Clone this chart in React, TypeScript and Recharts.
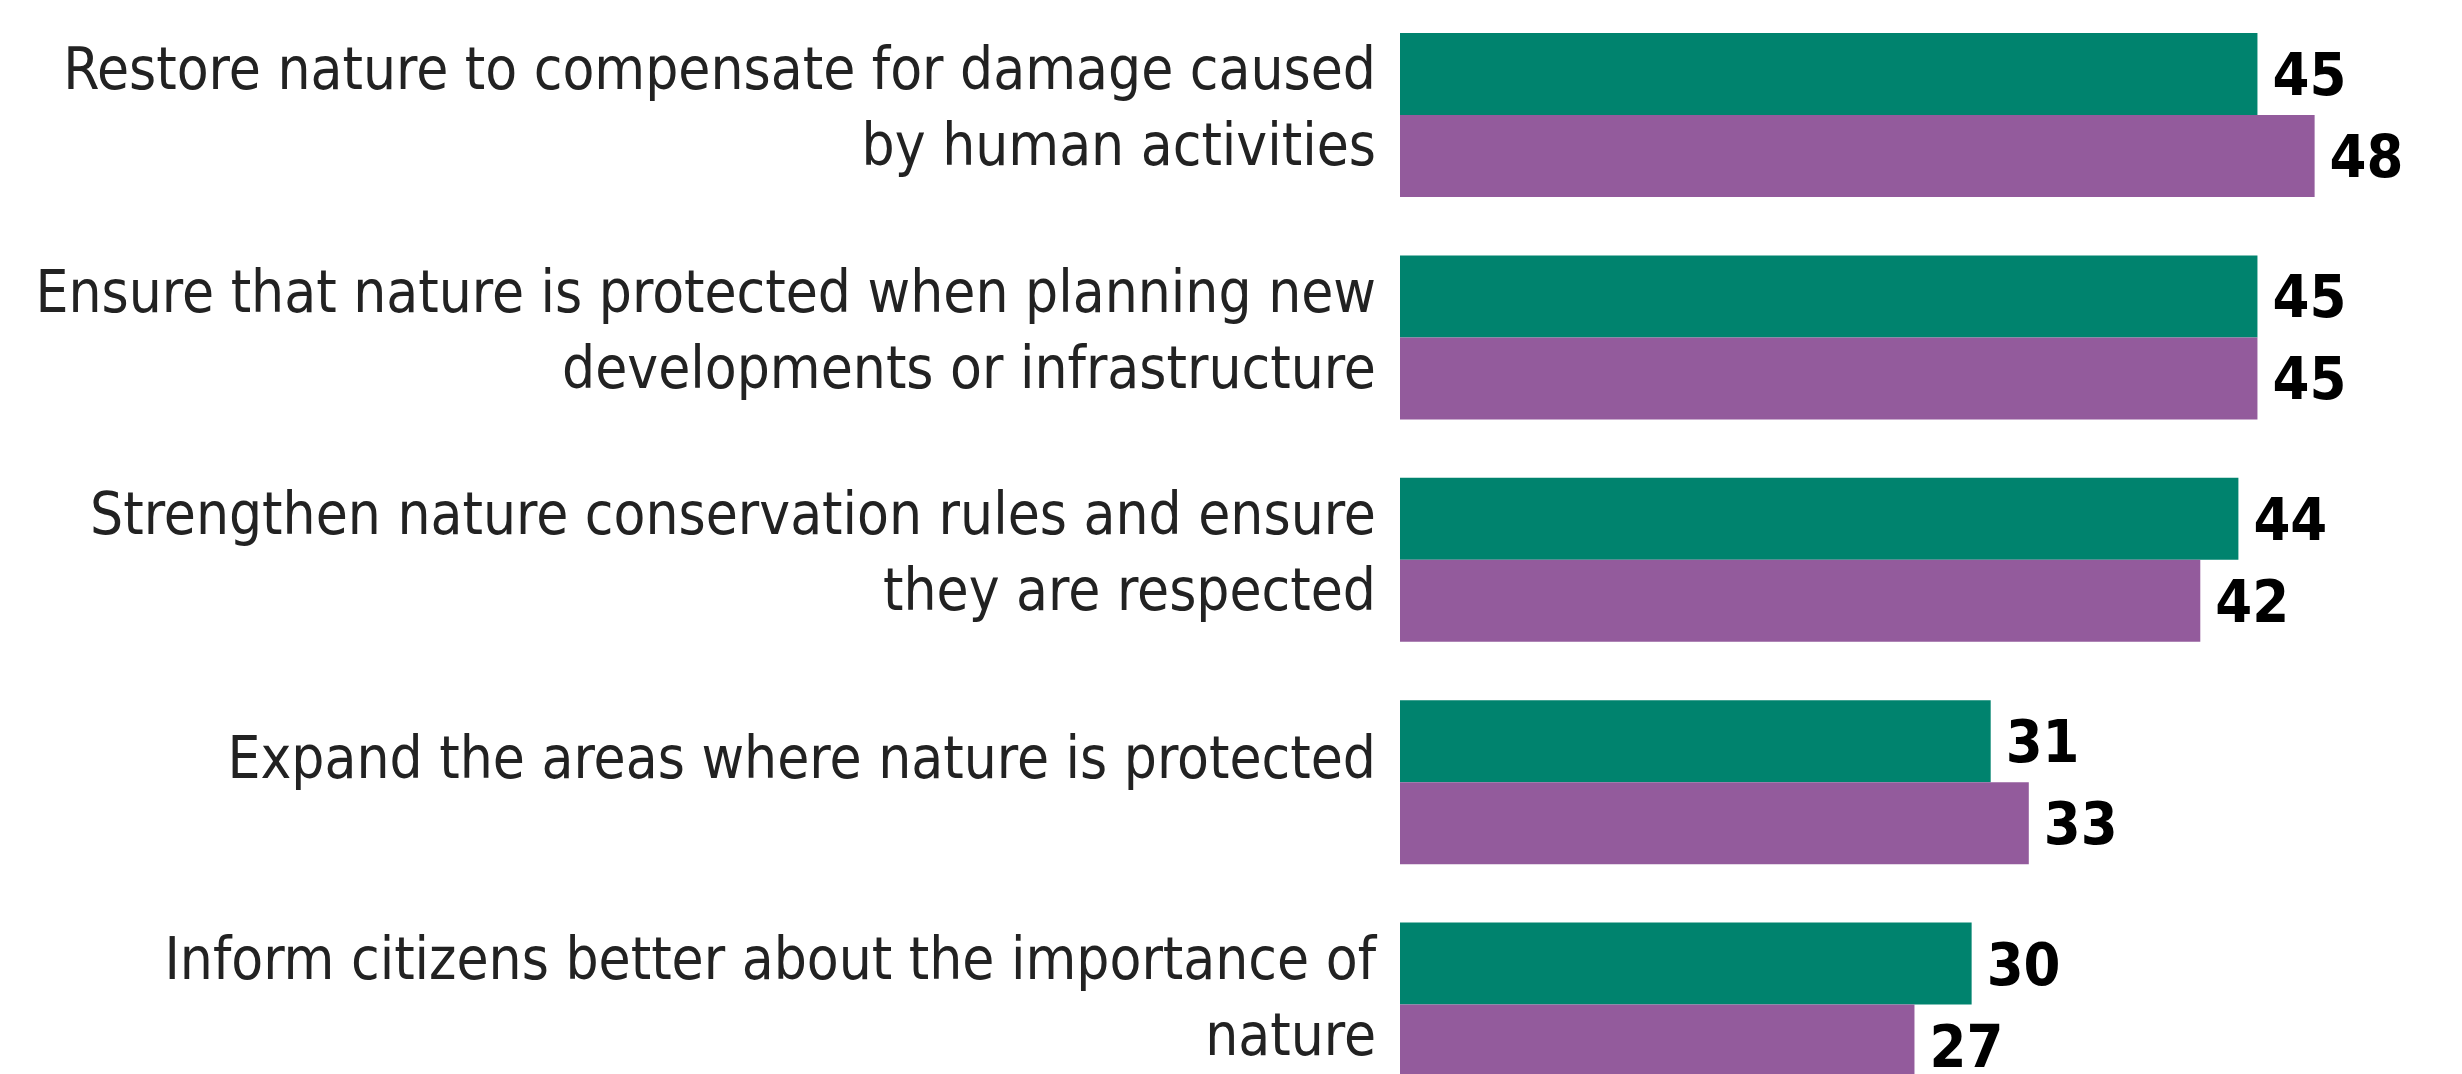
import React from "react";
import { BarChart, Bar, XAxis, YAxis, LabelList } from "recharts";

const categories: string[][] = [
  ["Restore nature to compensate for damage caused", "by human activities"],
  ["Ensure that nature is protected when planning new", "developments or infrastructure"],
  ["Strengthen nature conservation rules and ensure", "they are respected"],
  ["Expand the areas where nature is protected"],
  ["Inform citizens better about the importance of", "nature"],
];
const seriesA: number[] = [45, 45, 44, 31, 30];
const seriesB: number[] = [48, 45, 42, 33, 27];

const data = categories.map((lines, i) => ({
  name: lines.join(" "),
  lines,
  a: seriesA[i],
  b: seriesB[i],
}));

const GREEN = "#00836E";
const PURPLE = "#935B9C";
const FONT = "'DejaVu Sans Condensed', 'DejaVu Sans', sans-serif";

const CategoryTick = (props: any) => {
  const { x, y, payload } = props;
  const idx = data.findIndex((d) => d.name === payload.value);
  const lines = idx >= 0 ? data[idx].lines : [String(payload.value)];
  const lh = 76;
  const first = lines.length === 1 ? -4 : -26;
  return (
    <text
      x={x}
      y={y}
      textAnchor="end"
      fill="#222222"
      style={{ fontFamily: FONT, fontSize: 58 }}
    >
      {lines.map((l: string, i: number) => (
        <tspan key={i} x={x} y={y + first + i * lh}>
          {l}
        </tspan>
      ))}
    </text>
  );
};

const labelStyle = {
  fontFamily: FONT,
  fontSize: 59,
  fontWeight: 700,
  fill: "#000000",
};

export default function App() {
  return (
    <div
      style={{
        position: "fixed",
        left: 0,
        top: 0,
        width: 2462,
        height: 1074,
        overflow: "hidden",
        background: "#ffffff",
      }}
    >
      <BarChart
        width={2462}
        height={1116}
        data={data}
        layout="vertical"
        margin={{ top: 4, right: 14, bottom: 0, left: 0 }}
        barCategoryGap={29}
        barGap={0}
      >
        <XAxis type="number" domain={[0, 55]} hide />
        <YAxis
          type="category"
          dataKey="name"
          width={1400}
          axisLine={false}
          tickLine={false}
          tickSize={0}
          tickMargin={24}
          tick={<CategoryTick />}
          interval={0}
        />
        <Bar dataKey="a" fill={GREEN} isAnimationActive={false}>
          <LabelList dataKey="a" position="right" offset={15} style={labelStyle} />
        </Bar>
        <Bar dataKey="b" fill={PURPLE} isAnimationActive={false}>
          <LabelList dataKey="b" position="right" offset={15} style={labelStyle} />
        </Bar>
      </BarChart>
    </div>
  );
}
